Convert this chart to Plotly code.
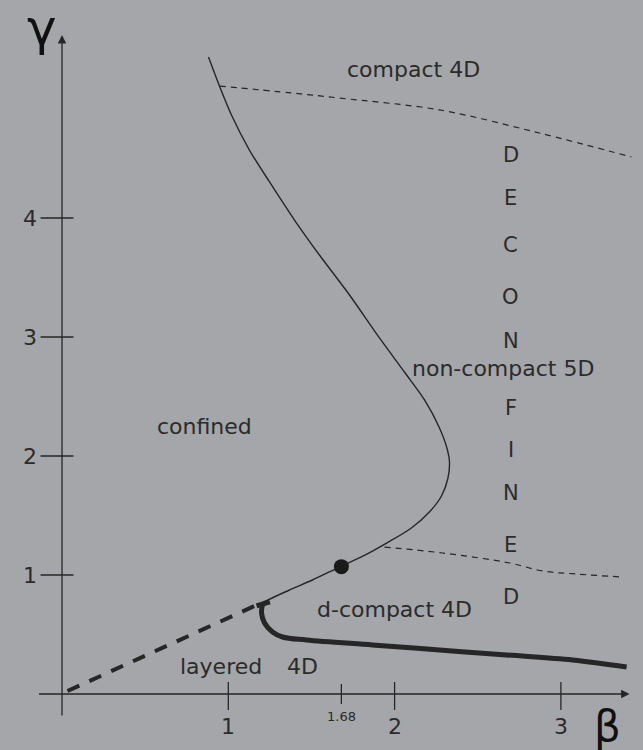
import plotly.graph_objects as go

# ---------------- data ----------------
# thin phase boundary (confined / deconfined)
boundary_beta = [0.881, 0.947, 1.019, 1.127, 1.248, 1.398, 1.548, 1.729, 1.909, 2.059,
                 2.180, 2.270, 2.318, 2.330, 2.321, 2.282, 2.209, 2.101, 1.957, 1.812,
                 1.669, 1.506, 1.368, 1.200]
boundary_gamma = [5.353, 5.109, 4.866, 4.571, 4.303, 3.983, 3.689, 3.353, 2.992, 2.706,
                  2.471, 2.235, 2.050, 1.950, 1.815, 1.664, 1.529, 1.395, 1.272, 1.160,
                  1.067, 0.958, 0.874, 0.765]

# thick dashed line (layered / confined)
layer_beta = [0.033, 1.190]
layer_gamma = [0.025, 0.760]

# thick solid line (layered / d-compact)
thick_beta = [1.170, 1.250, None, 1.206, 1.200, 1.218, 1.266, 1.326, 1.470, 1.867,
              2.270, 2.673, 3.070, 3.395]
thick_gamma = [0.740, 0.775, None, 0.756, 0.681, 0.597, 0.521, 0.479, 0.454, 0.412,
               0.370, 0.328, 0.286, 0.227]

# upper thin dashed line (compact 4D / non-compact 5D)
upper_beta = [0.947, 1.386, 1.669, 2.270, 2.871, 3.424]
upper_gamma = [5.109, 5.050, 5.008, 4.908, 4.714, 4.513]

# lower thin dashed line (non-compact 5D / d-compact 4D)
lower_beta = [1.939, 2.288, 2.691, 2.889, 3.094, 3.370]
lower_gamma = [1.235, 1.185, 1.101, 1.034, 1.008, 0.983]

# special point
point_beta = [1.68]
point_gamma = [1.07]

# tick labels
x_ticks = [1, 2, 3]
x_tick_text = ["1", "2", "3"]
x_small_ticks = [1.68]
x_small_tick_text = ["1.68"]
y_ticks = [1, 2, 3, 4]
y_tick_text = ["1", "2", "3", "4"]

# region labels
region_text = ["compact 4D", "non-compact 5D", "confined", "d-compact 4D", "layered", "4D"]
deconf_letters = list("DECONFINED")

# ---------------- layout constants ----------------
region_pos = [(2.114, 5.244), (2.649, 2.739), (0.857, 2.244), (1.999, 0.706),
              (0.959, 0.227), (1.446, 0.227)]
letter_x = 2.697
letter_y = [4.529, 4.168, 3.773, 3.336, 2.966, 2.403, 2.050, 1.689, 1.252, 0.815]

BG = "rgb(164,166,169)"
INK = "#262626"
TXT = "#2b2b2b"
FONT = "DejaVu Sans"

X0, X1 = -0.3728, 3.4937
Y0, Y1 = -0.4706, 5.832

fig = go.Figure()

fig.add_trace(go.Scatter(x=boundary_beta, y=boundary_gamma, mode="lines",
                         line=dict(color=INK, width=1.4, shape="spline", smoothing=0.8),
                         hoverinfo="skip"))
fig.add_trace(go.Scatter(x=layer_beta, y=layer_gamma, mode="lines",
                         line=dict(color=INK, width=4, dash="13px,11px"),
                         hoverinfo="skip"))
fig.add_trace(go.Scatter(x=thick_beta, y=thick_gamma, mode="lines",
                         line=dict(color=INK, width=5, shape="spline"),
                         connectgaps=False, hoverinfo="skip"))
fig.add_trace(go.Scatter(x=upper_beta, y=upper_gamma, mode="lines",
                         line=dict(color=INK, width=1.2, dash="6px,5px", shape="spline"),
                         hoverinfo="skip"))
fig.add_trace(go.Scatter(x=lower_beta, y=lower_gamma, mode="lines",
                         line=dict(color=INK, width=1.2, dash="6px,5px", shape="spline"),
                         hoverinfo="skip"))
fig.add_trace(go.Scatter(x=point_beta, y=point_gamma, mode="markers",
                         marker=dict(color="#1a1a1a", size=15), hoverinfo="skip"))

annotations = []
shapes = []

# axes with arrows
annotations.append(dict(x=0, y=5.538, ax=0, ay=-0.193, xref="x", yref="y",
                        axref="x", ayref="y", text="", showarrow=True,
                        arrowhead=2, arrowsize=1.3, arrowwidth=1.3, arrowcolor=INK,
                        standoff=0, startstandoff=0))
annotations.append(dict(x=3.413, y=0, ax=-0.147, ay=0, xref="x", yref="y",
                        axref="x", ayref="y", text="", showarrow=True,
                        arrowhead=2, arrowsize=1.3, arrowwidth=1.3, arrowcolor=INK,
                        standoff=0, startstandoff=0))

# tick marks
for v in x_ticks:
    shapes.append(dict(type="line", x0=v, x1=v, y0=-0.134, y1=0.101,
                       xref="x", yref="y", line=dict(color=INK, width=1.3)))
for v in x_small_ticks:
    shapes.append(dict(type="line", x0=v, x1=v, y0=-0.084, y1=0.084,
                       xref="x", yref="y", line=dict(color=INK, width=1.3)))
for v in y_ticks:
    shapes.append(dict(type="line", x0=-0.129, x1=0.069, y0=v, y1=v,
                       xref="x", yref="y", line=dict(color=INK, width=1.3)))

# tick labels
for v, t in zip(x_ticks, x_tick_text):
    annotations.append(dict(x=v, y=-0.277, text=t, showarrow=False, xref="x", yref="y",
                            xanchor="center", yanchor="middle",
                            font=dict(family=FONT, size=22, color=TXT)))
for v, t in zip(x_small_ticks, x_small_tick_text):
    annotations.append(dict(x=v, y=-0.193, text=t, showarrow=False, xref="x", yref="y",
                            xanchor="center", yanchor="middle",
                            font=dict(family=FONT, size=13, color=TXT)))
for v, t in zip(y_ticks, y_tick_text):
    annotations.append(dict(x=-0.195, y=v, text=t, showarrow=False, xref="x", yref="y",
                            xanchor="center", yanchor="middle",
                            font=dict(family=FONT, size=22, color=TXT)))

# axis symbols
annotations.append(dict(x=-0.12, y=5.6, text="γ", showarrow=False, xref="x", yref="y",
                        xanchor="center", yanchor="middle",
                        font=dict(family=FONT, size=50, color="#111111")))
annotations.append(dict(x=3.28, y=-0.27, text="β", showarrow=False, xref="x", yref="y",
                        xanchor="center", yanchor="middle",
                        font=dict(family=FONT, size=42, color="#111111")))

# region labels
for (px, py), t in zip(region_pos, region_text):
    annotations.append(dict(x=px, y=py, text=t, showarrow=False, xref="x", yref="y",
                            xanchor="center", yanchor="middle",
                            font=dict(family=FONT, size=22, color=TXT)))
for ly, t in zip(letter_y, deconf_letters):
    annotations.append(dict(x=letter_x, y=ly, text=t, showarrow=False, xref="x", yref="y",
                            xanchor="center", yanchor="middle",
                            font=dict(family=FONT, size=21, color=TXT)))

fig.update_layout(
    width=643, height=750,
    margin=dict(l=0, r=0, t=0, b=0),
    paper_bgcolor=BG, plot_bgcolor=BG,
    showlegend=False,
    xaxis=dict(range=[X0, X1], visible=False, fixedrange=True),
    yaxis=dict(range=[Y0, Y1], visible=False, fixedrange=True),
    annotations=annotations,
    shapes=shapes,
)

fig.write_html("out.html", config={"displayModeBar": False})
